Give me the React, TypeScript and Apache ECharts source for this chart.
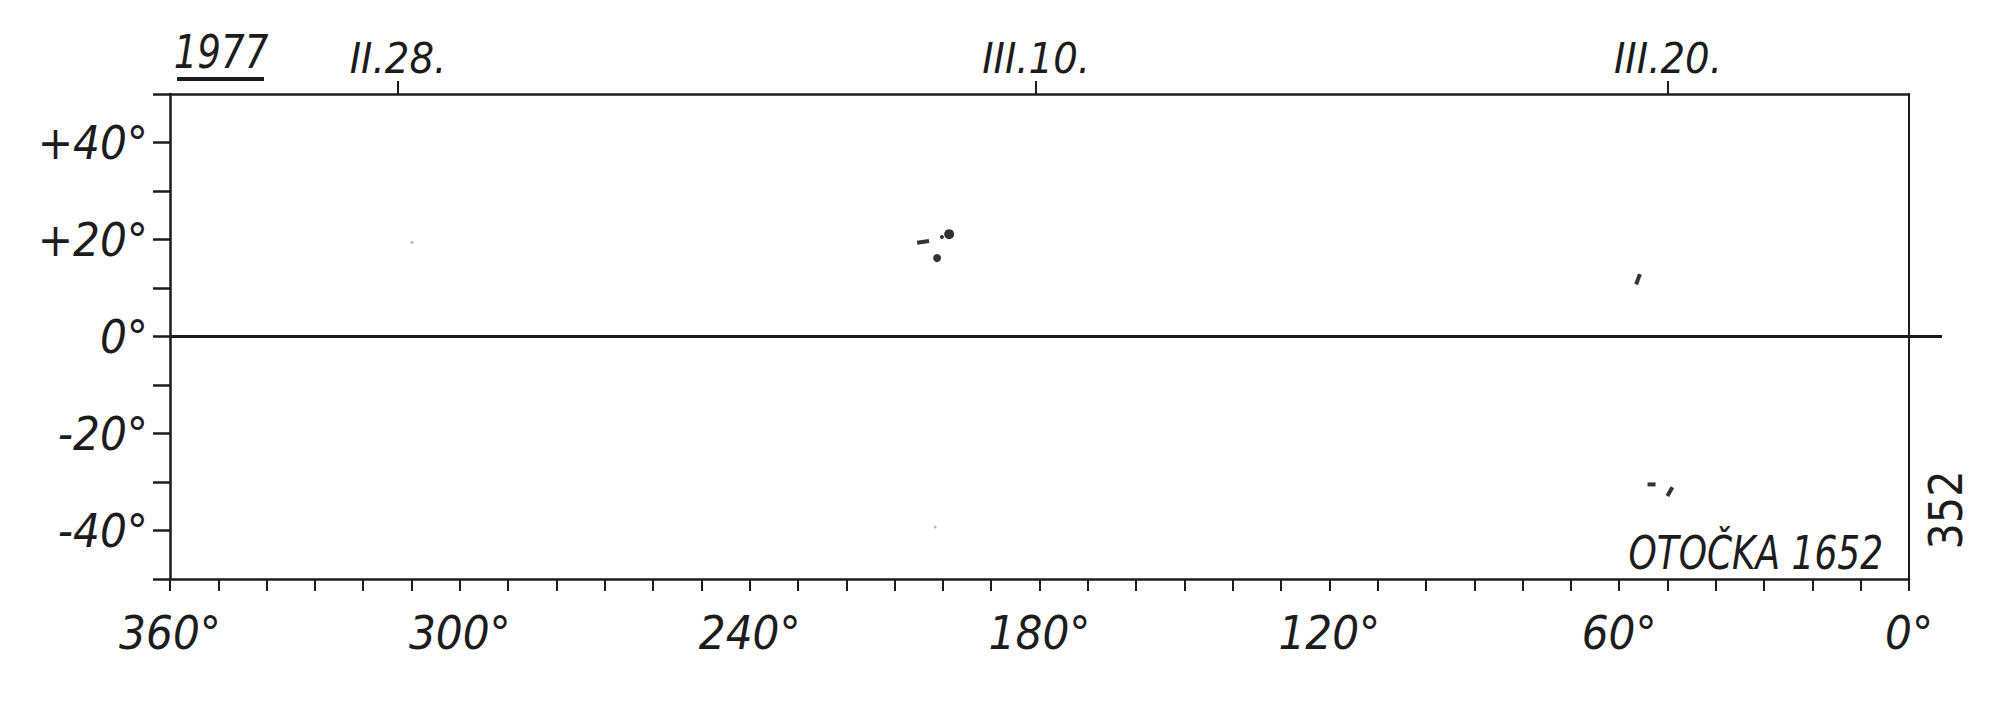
import React, { useEffect, useRef } from "react";
import * as echarts from "echarts";

// Heliographic longitude / latitude of sunspot marks (Carrington rotation 1652)
const spotLon = [204.1, 200.2, 198.7, 201.2, 56.1, 53.3, 49.5];
const spotLat = [19.5, 20.5, 21.1, 16.2, 11.8, -30.5, -32.0];
// faint specks visible on the sheet
const faintLon = [309.9, 201.6];
const faintLat = [19.4, -39.3];
// central meridian passage dates (top axis)
const dateTicks = [312.8, 180.7, 49.9];
const dateLabels = ["II.28.", "III.10.", "III.20."];
// tick labels
const lonLabelValues = [360, 300, 240, 180, 120, 60, 0];
const latLabelValues = [40, 20, 0, -20, -40];

const INK = "#1c1c1c";
const FONT = '"Liberation Sans Narrow", "DejaVu Sans Condensed", "Liberation Sans", sans-serif';

// glyph style of each spot mark (shape only)
const glyphs: any[] = [
  { symbol: "rect", size: [12, 4], rotate: 8 },
  { symbol: "circle", size: 4, rotate: 0 },
  { symbol: "circle", size: 10, rotate: 0 },
  { symbol: "circle", size: 8, rotate: 0 },
  { symbol: "rect", size: [11, 4], rotate: 70 },
  { symbol: "rect", size: [8, 4], rotate: 0 },
  { symbol: "rect", size: [10, 4], rotate: 60 },
];

export default function App() {
  const ref = useRef<HTMLDivElement>(null);
  useEffect(() => {
    if (!ref.current) return;
    const chart = echarts.init(ref.current, undefined, { renderer: "svg" });
    const labelStyle = {
      fontFamily: FONT,
      fontStyle: "italic" as const,
      fontSize: 47,
      color: INK,
    };
    const option: any = {
      animation: false,
      backgroundColor: "#fff",
      grid: { left: 170, right: 91, top: 94, bottom: 129, containLabel: false },
      xAxis: [
        {
          type: "value",
          position: "bottom",
          inverse: true,
          min: 0,
          max: 360,
          interval: 10,
          splitLine: { show: false },
          axisLine: { show: true, onZero: false, lineStyle: { color: INK, width: 2.5 } },
          axisTick: { show: true, inside: false, length: 12, lineStyle: { color: INK, width: 2 } },
          axisLabel: {
            ...labelStyle,
            margin: 30,
            formatter: (v: number) => (lonLabelValues.includes(v) ? `${v}°` : ""),
          },
        },
        {
          type: "value",
          position: "top",
          inverse: true,
          min: 0,
          max: 360,
          splitLine: { show: false },
          axisLine: { show: true, onZero: false, lineStyle: { color: INK, width: 2.5 } },
          axisTick: {
            show: true,
            inside: false,
            length: 13,
            customValues: dateTicks,
            lineStyle: { color: INK, width: 2 },
          },
          axisLabel: {
            ...labelStyle,
            fontSize: 43,
            margin: 15,
            customValues: dateTicks,
            formatter: (v: number) => {
              const i = dateTicks.findIndex((d) => Math.abs(d - v) < 0.01);
              return i >= 0 ? dateLabels[i] : "";
            },
          },
        },
      ],
      yAxis: [
        {
          type: "value",
          position: "left",
          min: -50,
          max: 50,
          interval: 10,
          splitLine: { show: false },
          axisLine: { show: true, onZero: false, lineStyle: { color: INK, width: 2.5 } },
          axisTick: { show: true, inside: false, length: 17, lineStyle: { color: INK, width: 2.5 } },
          axisLabel: {
            ...labelStyle,
            margin: 22,
            formatter: (v: number) => {
              if (!latLabelValues.includes(v)) return "";
              if (v === 0) return "0°";
              return (v > 0 ? "+" : "-") + Math.abs(v) + "°";
            },
          },
        },
        {
          type: "value",
          position: "right",
          min: -50,
          max: 50,
          splitLine: { show: false },
          axisLine: { show: true, onZero: false, lineStyle: { color: INK, width: 2 } },
          axisTick: {
            show: true,
            inside: false,
            length: 33,
            customValues: [0],
            lineStyle: { color: INK, width: 3 },
          },
          axisLabel: { show: false },
        },
      ],
      series: [
        {
          type: "scatter",
          xAxisIndex: 0,
          yAxisIndex: 0,
          silent: true,
          itemStyle: { color: "#000" },
          data: spotLon.map((lon, i) => ({
            value: [lon, spotLat[i]],
            symbol: glyphs[i].symbol,
            symbolSize: glyphs[i].size,
            symbolRotate: glyphs[i].rotate,
          })),
          markLine: {
            silent: true,
            symbol: ["none", "none"],
            label: { show: false },
            lineStyle: { color: INK, width: 3, type: "solid" },
            data: [{ yAxis: 0 }],
          },
        },
        {
          type: "scatter",
          xAxisIndex: 0,
          yAxisIndex: 0,
          silent: true,
          symbol: "circle",
          symbolSize: 3,
          itemStyle: { color: "#aaa" },
          data: faintLon.map((lon, i) => [lon, faintLat[i]]),
        },
      ],
      graphic: [
        {
          type: "text",
          x: 221,
          y: 52,
          scaleX: 0.88,
          style: {
            text: "1977",
            fontFamily: FONT,
            fontStyle: "italic",
            fontSize: 47,
            fill: INK,
            align: "center",
            verticalAlign: "middle",
          },
        },
        {
          type: "rect",
          shape: { x: 177, y: 77, width: 87, height: 4 },
          style: { fill: INK },
        },
        {
          type: "text",
          x: 1883,
          y: 553,
          scaleX: 0.85,
          style: {
            text: "OTOČKA 1652",
            fontFamily: FONT,
            fontStyle: "italic",
            fontSize: 47,
            fill: INK,
            align: "right",
            verticalAlign: "middle",
          },
        },
        {
          type: "text",
          x: 1946,
          y: 510,
          rotation: Math.PI / 2,
          style: {
            text: "352",
            fontFamily: FONT,
            fontSize: 46,
            fill: INK,
            align: "center",
            verticalAlign: "middle",
          },
        },
      ],
    };
    chart.setOption(option);
    return () => chart.dispose();
  }, []);
  return (
    <div
      ref={ref}
      style={{ position: "fixed", left: 0, top: 0, width: 2000, height: 708, background: "#fff" }}
    />
  );
}
